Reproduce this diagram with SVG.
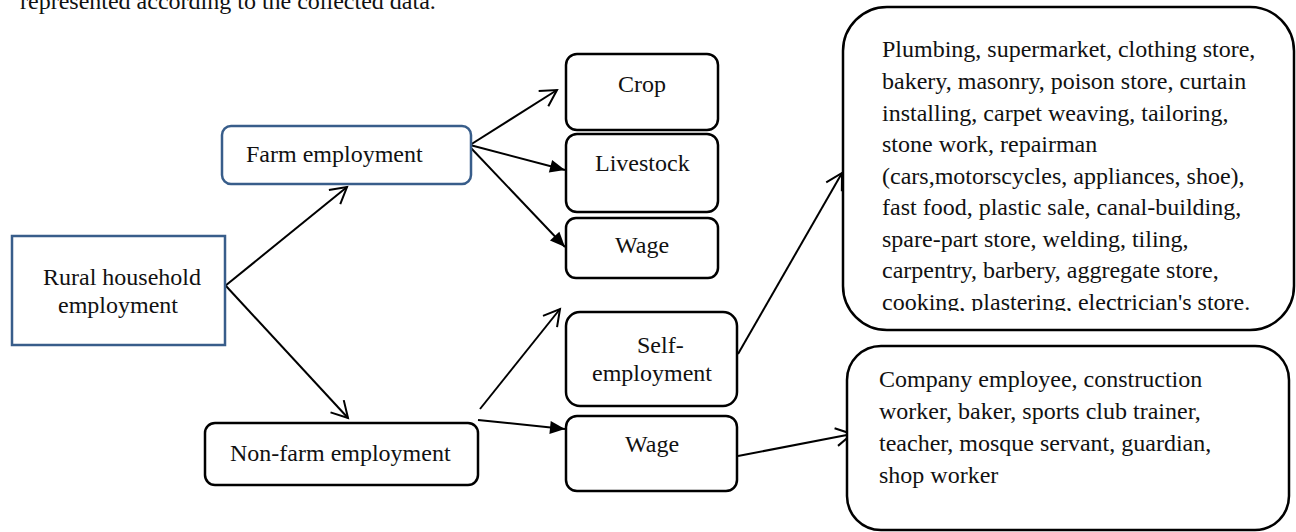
<svg xmlns="http://www.w3.org/2000/svg" width="1296" height="532" viewBox="0 0 1296 532">
<style>
text{font-family:"Liberation Serif","Times New Roman",serif;font-size:24px;fill:#111;}
.blue{fill:#fff;stroke:#385D8A;stroke-width:2.5;}
.box{fill:#fff;stroke:#000;stroke-width:2.5;}
.conn{fill:none;stroke:#000;stroke-width:2;}
</style>
<defs>
<marker id="open" markerUnits="userSpaceOnUse" markerWidth="24" markerHeight="24" viewBox="-20 -12 24 24" refX="0" refY="0" orient="auto" overflow="visible">
<path d="M-16,-9 L0,0 L-16,9" fill="none" stroke="#000" stroke-width="2" stroke-linejoin="miter"/>
</marker>
<marker id="solid" markerUnits="userSpaceOnUse" markerWidth="24" markerHeight="24" viewBox="-20 -12 24 24" refX="0" refY="0" orient="auto" overflow="visible">
<path d="M0,0 L-15,-6.5 L-15,6.5 Z" fill="#000"/>
</marker>
<clipPath id="clip1"><rect x="843" y="7" width="452" height="304"/></clipPath>
</defs>

<text x="20" y="9" font-size="24">represented according to the collected data.</text>

<g id="connectors">
<line class="conn" x1="225" y1="286" x2="347" y2="187" marker-end="url(#open)"/>
<line class="conn" x1="226" y1="286" x2="348" y2="418" marker-end="url(#open)"/>
<line class="conn" x1="470" y1="145" x2="557" y2="90" marker-end="url(#open)"/>
<line class="conn" x1="470" y1="145" x2="565" y2="170" marker-end="url(#solid)"/>
<line class="conn" x1="470" y1="147" x2="565" y2="247" marker-end="url(#solid)"/>
<line class="conn" x1="480" y1="409" x2="560" y2="309" marker-end="url(#open)"/>
<line class="conn" x1="478" y1="420" x2="565" y2="429" marker-end="url(#solid)"/>
<line class="conn" x1="738" y1="354" x2="842" y2="173" marker-end="url(#open)"/>
<line class="conn" x1="738" y1="456" x2="852" y2="434" marker-end="url(#open)"/>
</g>

<g id="rural">
<rect class="blue" x="12" y="236" width="213" height="109"/>
<text x="43" y="285">Rural household</text>
<text x="58" y="313">employment</text>
</g>

<g id="farm">
<rect class="blue" x="222" y="126" width="249" height="58" rx="9"/>
<text x="246" y="162">Farm employment</text>
</g>

<g id="nonfarm">
<rect class="box" x="205" y="423" width="273" height="62" rx="10"/>
<text x="230" y="461">Non-farm employment</text>
</g>

<g id="crop">
<rect class="box" x="566" y="54" width="152" height="76" rx="11"/>
<text x="618" y="92">Crop</text>
</g>

<g id="livestock">
<rect class="box" x="566" y="134" width="152" height="78" rx="11"/>
<text x="595" y="171">Livestock</text>
</g>

<g id="farmwage">
<rect class="box" x="566" y="218" width="152" height="60" rx="10"/>
<text x="615" y="253">Wage</text>
</g>

<g id="self">
<rect class="box" x="566" y="312" width="171" height="94" rx="14"/>
<text x="637" y="353">Self-</text>
<text x="592" y="381">employment</text>
</g>

<g id="nonfarmwage">
<rect class="box" x="566" y="416" width="171" height="75" rx="11"/>
<text x="625" y="452">Wage</text>
</g>

<g id="selflist">
<rect class="box" x="843" y="7" width="451" height="323" rx="44"/>
<g clip-path="url(#clip1)">
<text x="882" y="57">Plumbing, supermarket, clothing store,</text>
<text x="882" y="89">bakery, masonry, poison store, curtain</text>
<text x="882" y="120.5">installing, carpet weaving, tailoring,</text>
<text x="882" y="152">stone work, repairman</text>
<text x="882" y="183.5">(cars,motorscycles, appliances, shoe),</text>
<text x="882" y="215">fast food, plastic sale, canal-building,</text>
<text x="882" y="246.5">spare-part store, welding, tiling,</text>
<text x="882" y="278">carpentry, barbery, aggregate store,</text>
<text x="882" y="309.5">cooking, plastering, electrician's store.</text>
</g>
</g>

<g id="wagelist">
<rect class="box" x="847" y="346" width="442" height="184" rx="34"/>
<text x="879" y="387">Company employee, construction</text>
<text x="879" y="419">worker, baker, sports club trainer,</text>
<text x="879" y="451">teacher, mosque servant, guardian,</text>
<text x="879" y="483">shop worker</text>
</g>
</svg>
